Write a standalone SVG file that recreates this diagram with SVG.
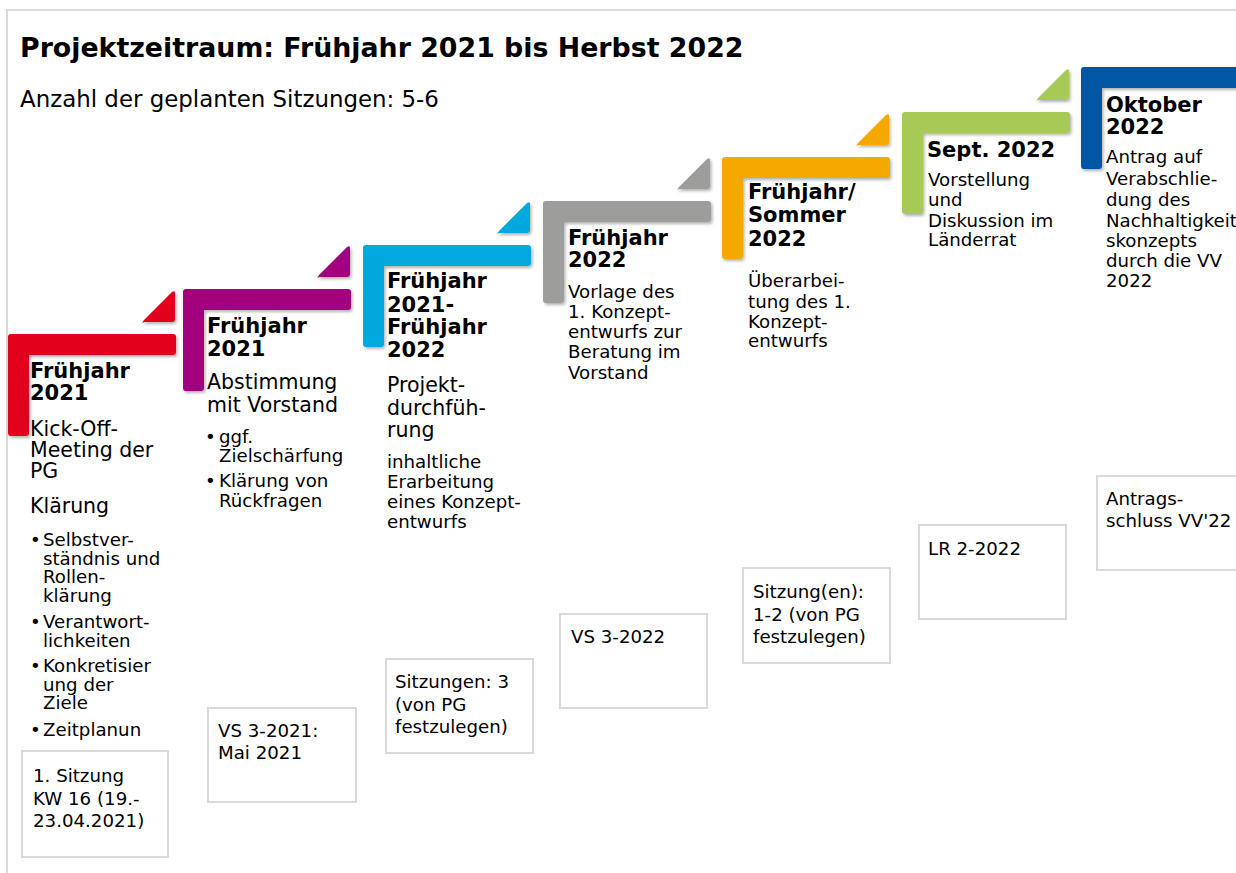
<svg xmlns="http://www.w3.org/2000/svg" width="1236" height="873" viewBox="0 0 1236 873">
<defs>
<filter id="sh" x="-10%" y="-10%" width="130%" height="130%">
<feDropShadow dx="1.5" dy="2" stdDeviation="1.5" flood-color="#000" flood-opacity="0.3"/>
</filter>
<path id="lshape" d="M3,0 H165 Q168,0 168,3 V18 Q168,21 165,21 H21 V99 Q21,102 18,102 H3 Q0,102 0,99 V3 Q0,0 3,0 Z"/>
<path id="tri" d="M134,-9 Q134,-12 137,-12 H164 Q167,-12 167,-15 V-41 Q167,-44 164,-42 L136,-14 Q134,-12 134,-9 Z"/>
<g id="step">
<use href="#lshape"/>
<use href="#tri"/>
</g>
</defs>
<style>
text{font-family:"DejaVu Sans","Verdana",sans-serif;fill:#000}
.h{font-weight:bold;font-size:21px}
.b{font-size:20.5px}
.s{font-size:18.2px}
.box{fill:#fff;stroke:#d9d9d9;stroke-width:2}
</style>
<rect x="0" y="0" width="1236" height="873" fill="#fff"/>
<path d="M7,873 V10 H1236" fill="none" stroke="#d9d9d9" stroke-width="2"/>
<g id="title">
<text x="20" y="57" style="font-weight:bold;font-size:26.8px">Projektzeitraum: Frühjahr 2021 bis Herbst 2022</text>
<text x="20" y="107" style="font-size:22.9px">Anzahl der geplanten Sitzungen: 5-6</text>
</g>
<g id="connectors"></g>

<g id="step1">
<use href="#step" x="8" y="334" fill="#e3001b" filter="url(#sh)"/>
<text class="h" x="30" y="378">Frühjahr</text>
<text class="h" x="30" y="400">2021</text>
<text class="b" x="30" y="436">Kick-Off-</text>
<text class="b" x="30" y="457">Meeting der</text>
<text class="b" x="30" y="478">PG</text>
<text class="b" x="30" y="513">Klärung</text>
<text class="s" x="30" y="546">•</text><text class="s" x="43" y="546">Selbstver-</text>
<text class="s" x="43" y="564.5">ständnis und</text>
<text class="s" x="43" y="583">Rollen-</text>
<text class="s" x="43" y="601.5">klärung</text>
<text class="s" x="30" y="628">•</text><text class="s" x="43" y="628">Verantwort-</text>
<text class="s" x="43" y="646.5">lichkeiten</text>
<text class="s" x="30" y="672">•</text><text class="s" x="43" y="672">Konkretisier</text>
<text class="s" x="43" y="690.5">ung der</text>
<text class="s" x="43" y="709">Ziele</text>
<text class="s" x="30" y="736">•</text><text class="s" x="43" y="736">Zeitplanun</text>
</g>
<g id="box1">
<rect class="box" x="22" y="751" width="146" height="106"/>
<text class="s" x="33" y="782">1. Sitzung</text>
<text class="s" x="33" y="805">KW 16 (19.-</text>
<text class="s" x="33" y="827">23.04.2021)</text>
</g>

<g id="step2">
<use href="#step" x="183" y="289" fill="#a2007d" filter="url(#sh)"/>
<text class="h" x="207" y="333">Frühjahr</text>
<text class="h" x="207" y="356">2021</text>
<text class="b" x="207" y="389">Abstimmung</text>
<text class="b" x="207" y="412">mit Vorstand</text>
<text class="s" x="205" y="443">•</text><text class="s" x="219" y="443">ggf.</text>
<text class="s" x="219" y="462">Zielschärfung</text>
<text class="s" x="205" y="487">•</text><text class="s" x="219" y="487">Klärung von</text>
<text class="s" x="219" y="507">Rückfragen</text>
</g>
<g id="box2">
<rect class="box" x="208" y="708" width="148" height="94"/>
<text class="s" x="218" y="737">VS 3-2021:</text>
<text class="s" x="218" y="759">Mai 2021</text>
</g>

<g id="step3">
<use href="#step" x="363" y="245" fill="#00a8de" filter="url(#sh)"/>
<text class="h" x="387" y="288">Frühjahr</text>
<text class="h" x="387" y="312">2021-</text>
<text class="h" x="387" y="334">Frühjahr</text>
<text class="h" x="387" y="357">2022</text>
<text class="b" x="387" y="392">Projekt-</text>
<text class="b" x="387" y="415">durchfüh-</text>
<text class="b" x="387" y="437">rung</text>
<text class="s" x="387" y="468">inhaltliche</text>
<text class="s" x="387" y="488">Erarbeitung</text>
<text class="s" x="387" y="508">eines Konzept-</text>
<text class="s" x="387" y="528">entwurfs</text>
</g>
<g id="box3">
<rect class="box" x="386" y="659" width="147" height="94"/>
<text class="s" x="395" y="688">Sitzungen: 3</text>
<text class="s" x="395" y="711">(von PG</text>
<text class="s" x="395" y="733">festzulegen)</text>
</g>

<g id="step4">
<use href="#step" x="543" y="201" fill="#9d9d9c" filter="url(#sh)"/>
<text class="h" x="568" y="245">Frühjahr</text>
<text class="h" x="568" y="267">2022</text>
<text class="s" x="568" y="298">Vorlage des</text>
<text class="s" x="568" y="318">1. Konzept-</text>
<text class="s" x="568" y="338">entwurfs zur</text>
<text class="s" x="568" y="358">Beratung im</text>
<text class="s" x="568" y="379">Vorstand</text>
</g>
<g id="box4">
<rect class="box" x="560" y="614" width="147" height="94"/>
<text class="s" x="571" y="643">VS 3-2022</text>
</g>

<g id="step5">
<use href="#step" x="722" y="157" fill="#f5a800" filter="url(#sh)"/>
<text class="h" x="748" y="199">Frühjahr/</text>
<text class="h" x="748" y="222">Sommer</text>
<text class="h" x="748" y="246">2022</text>
<text class="s" x="748" y="287">Überarbei-</text>
<text class="s" x="748" y="308">tung des 1.</text>
<text class="s" x="748" y="328">Konzept-</text>
<text class="s" x="748" y="347">entwurfs</text>
</g>
<g id="box5">
<rect class="box" x="743" y="568" width="147" height="95"/>
<text class="s" x="753" y="598">Sitzung(en):</text>
<text class="s" x="753" y="621">1-2 (von PG</text>
<text class="s" x="753" y="643">festzulegen)</text>
</g>

<g id="step6">
<use href="#step" x="902" y="112" fill="#a7c957" filter="url(#sh)"/>
<text class="h" x="927" y="157">Sept. 2022</text>
<text class="s" x="928" y="186">Vorstellung</text>
<text class="s" x="928" y="206">und</text>
<text class="s" x="928" y="227">Diskussion im</text>
<text class="s" x="928" y="246">Länderrat</text>
</g>
<g id="box6">
<rect class="box" x="919" y="525" width="147" height="94"/>
<text class="s" x="928" y="555">LR 2-2022</text>
</g>

<g id="step7">
<use href="#lshape" x="1081" y="67" fill="#0056a3" filter="url(#sh)"/>
<text class="h" x="1106" y="112">Oktober</text>
<text class="h" x="1106" y="134">2022</text>
<text class="s" x="1106" y="163">Antrag auf</text>
<text class="s" x="1106" y="185">Verabschlie-</text>
<text class="s" x="1106" y="206">dung des</text>
<text class="s" x="1106" y="227">Nachhaltigkeit</text>
<text class="s" x="1106" y="247">skonzepts</text>
<text class="s" x="1106" y="267">durch die VV</text>
<text class="s" x="1106" y="287">2022</text>
</g>
<g id="box7">
<rect class="box" x="1097" y="476" width="160" height="94"/>
<text class="s" x="1106" y="505">Antrags-</text>
<text class="s" x="1106" y="527">schluss VV'22</text>
</g>
</svg>
